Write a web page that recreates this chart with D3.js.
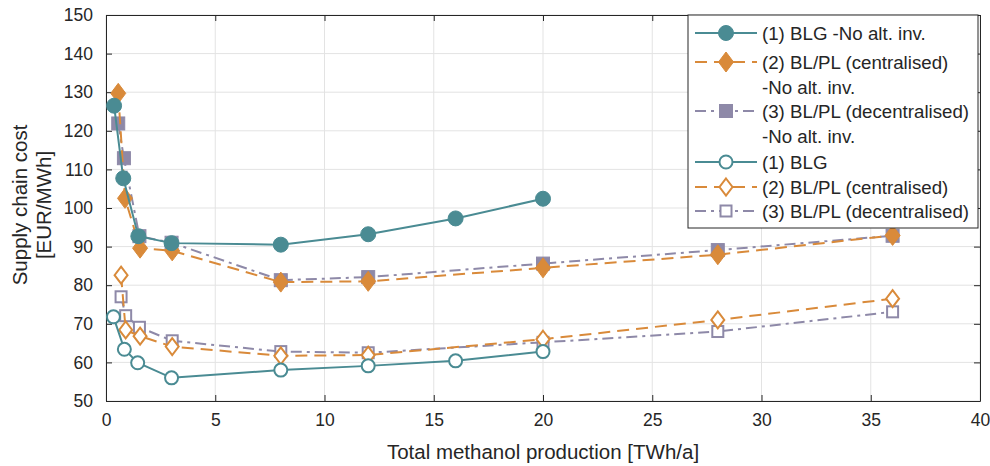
<!DOCTYPE html>
<html>
<head>
<meta charset="utf-8">
<script src="https://cdn.jsdelivr.net/npm/d3@7"></script>
<style>
  html, body { margin: 0; padding: 0; background: #fff; }
  svg { display: block; font-family: "Liberation Sans", Arial, Helvetica, sans-serif; }
</style>
</head>
<body>
<svg id="chart" width="990" height="466"></svg>
<script>
// ---- Data ----
const xTicks = [0, 5, 10, 15, 20, 25, 30, 35, 40];
const yTicks = [50, 60, 70, 80, 90, 100, 110, 120, 130, 140, 150];

const blgNoAltX = [0.37, 0.79, 1.48, 3, 8, 12, 16, 20];
const blgNoAltY = [126.5, 107.7, 92.7, 90.9, 90.5, 93.2, 97.3, 102.4];

const cenNoAltX = [0.56, 0.87, 1.56, 3.03, 8, 12, 20, 28, 36];
const cenNoAltY = [129.7, 102.5, 89.6, 88.9, 80.8, 81.0, 84.5, 87.9, 92.9];

const decNoAltX = [0.56, 0.82, 1.53, 3, 8, 12, 20, 28, 36];
const decNoAltY = [121.9, 112.9, 92.7, 91.0, 81.3, 82.1, 85.6, 89.1, 92.8];

const blgX = [0.34, 0.84, 1.45, 3, 8, 12, 16, 20];
const blgY = [71.8, 63.4, 59.9, 56.0, 58.0, 59.1, 60.4, 62.8];

const cenX = [0.69, 0.9, 1.56, 3.03, 8, 12, 20, 28, 36];
const cenY = [82.6, 68.4, 66.8, 64.1, 61.7, 61.9, 66.0, 71.0, 76.5];

const decX = [0.69, 0.9, 1.53, 3.03, 8, 12, 20, 28, 36];
const decY = [77.0, 72.1, 69.1, 65.6, 62.8, 62.5, 65.2, 68.0, 73.1];

const seriesNames = [
  ["(1) BLG -No alt. inv."],
  ["(2) BL/PL (centralised)", "-No alt. inv."],
  ["(3) BL/PL (decentralised)", "-No alt. inv."],
  ["(1) BLG"],
  ["(2) BL/PL (centralised)"],
  ["(3) BL/PL (decentralised)"]
];

const teal = "#4a8b93", orange = "#d98a3a", purple = "#8e89a8";

const series = [
  { xs: blgNoAltX, ys: blgNoAltY, color: teal,   dash: null,        marker: "circle",  filled: true },
  { xs: cenNoAltX, ys: cenNoAltY, color: orange, dash: "12,7",      marker: "diamond", filled: true },
  { xs: decNoAltX, ys: decNoAltY, color: purple, dash: "11,5,3,5",  marker: "square",  filled: true },
  { xs: blgX,      ys: blgY,      color: teal,   dash: null,        marker: "circle",  filled: false },
  { xs: cenX,      ys: cenY,      color: orange, dash: "12,7",      marker: "diamond", filled: false },
  { xs: decX,      ys: decY,      color: purple, dash: "11,5,3,5",  marker: "square",  filled: false }
];

// ---- Layout ----
const W = 990, H = 466;
const m = { left: 106, right: 10, top: 15, bottom: 65 };
const pw = W - m.left - m.right, ph = H - m.top - m.bottom;

const svg = d3.select("#chart");
const x = d3.scaleLinear().domain([0, 40]).range([m.left, m.left + pw]);
const y = d3.scaleLinear().domain([50, 150]).range([m.top + ph, m.top]);

// gridlines
const g = svg.append("g");
g.selectAll(".vg").data(xTicks).join("line")
  .attr("x1", d => x(d)).attr("x2", d => x(d))
  .attr("y1", m.top).attr("y2", m.top + ph)
  .attr("stroke", "#e3e3e3").attr("stroke-width", 1);
g.selectAll(".hg").data(yTicks).join("line")
  .attr("y1", d => y(d)).attr("y2", d => y(d))
  .attr("x1", m.left).attr("x2", m.left + pw)
  .attr("stroke", "#e3e3e3").attr("stroke-width", 1);

// axes (MATLAB-like: ticks inward, box)
const axisColor = "#262626";
const xAxis = svg.append("g").attr("transform", `translate(0,${m.top + ph})`)
  .call(d3.axisBottom(x).tickValues(xTicks).tickSizeInner(-6).tickSizeOuter(0).tickPadding(13));
const xAxisTop = svg.append("g").attr("transform", `translate(0,${m.top})`)
  .call(d3.axisTop(x).tickValues(xTicks).tickSizeInner(-6).tickSizeOuter(0).tickFormat(""));
const yAxis = svg.append("g").attr("transform", `translate(${m.left},0)`)
  .call(d3.axisLeft(y).tickValues(yTicks).tickSizeInner(-6).tickSizeOuter(0).tickPadding(13));
const yAxisRight = svg.append("g").attr("transform", `translate(${m.left + pw},0)`)
  .call(d3.axisRight(y).tickValues(yTicks).tickSizeInner(-6).tickSizeOuter(0).tickFormat(""));

[xAxis, xAxisTop, yAxis, yAxisRight].forEach(a => {
  a.select(".domain").attr("stroke", axisColor).attr("stroke-width", 1);
  a.selectAll(".tick line").attr("stroke", axisColor);
  a.selectAll(".tick text").attr("fill", "#262626").style("font-size", "17.5px")
    .style("font-family", "'Liberation Sans', Arial, sans-serif");
});

// axis labels
svg.append("text")
  .attr("x", x(20)).attr("y", 459)
  .attr("text-anchor", "middle")
  .style("font-size", "20.5px").attr("fill", "#262626")
  .text("Total methanol production [TWh/a]");

const yl = svg.append("text")
  .attr("transform", `translate(27,${y(100) - 3}) rotate(-90)`)
  .attr("text-anchor", "middle")
  .style("font-size", "20.5px").attr("fill", "#262626");
yl.append("tspan").attr("x", 0).attr("dy", 0).text("Supply chain cost");
yl.append("tspan").attr("x", 0).attr("dy", 24).text("[EUR/MWh]");

// markers
function drawMarker(sel, type, filled, color, cx, cy, scale) {
  const s = scale || 1;
  let el;
  if (type === "circle") {
    el = sel.append("circle").attr("cx", cx).attr("cy", cy).attr("r", filled ? 7.5 * s : 6.5 * s);
  } else if (type === "diamond") {
    const hw = (filled ? 7.5 : 6.5) * s, hh = (filled ? 10 : 8.5) * s;
    el = sel.append("path").attr("d", `M${cx},${cy - hh}L${cx + hw},${cy}L${cx},${cy + hh}L${cx - hw},${cy}Z`);
  } else {
    const h = (filled ? 6.5 : 5.5) * s;
    el = sel.append("rect").attr("x", cx - h).attr("y", cy - h).attr("width", 2 * h).attr("height", 2 * h);
  }
  el.attr("fill", filled ? color : "#fff").attr("stroke", color).attr("stroke-width", filled ? 1 : 2);
}

const line = d3.line().x(d => x(d[0])).y(d => y(d[1]));
const plot = svg.append("g");
// draw in reverse order so that filled series are on top like the reference
series.slice().reverse().forEach(s => {
  const pts = s.xs.map((v, i) => [v, s.ys[i]]);
  plot.append("path").datum(pts).attr("d", line)
    .attr("fill", "none").attr("stroke", s.color).attr("stroke-width", 2)
    .attr("stroke-dasharray", s.dash);
  const mg = plot.append("g");
  pts.forEach(p => drawMarker(mg, s.marker, s.filled, s.color, x(p[0]), y(p[1])));
});

// legend
const lg = svg.append("g");
const lx = 688, ly = 15, lw = 290, lh = 213;
lg.append("rect").attr("x", lx).attr("y", ly).attr("width", lw).attr("height", lh)
  .attr("fill", "#fff").attr("stroke", "#262626").attr("stroke-width", 1);
const rowY = [33, 62, 111, 162, 187, 211];
series.forEach((s, i) => {
  const ry = rowY[i];
  lg.append("line").attr("x1", 695).attr("x2", 757).attr("y1", ry).attr("y2", ry)
    .attr("stroke", s.color).attr("stroke-width", 2).attr("stroke-dasharray", s.dash);
  drawMarker(lg, s.marker, s.filled, s.color, 726, ry, 1);
  const t = lg.append("text").attr("x", 762).attr("y", ry + 6.5)
    .style("font-size", "18.7px").attr("fill", "#262626");
  seriesNames[i].forEach((ln, j) => {
    t.append("tspan").attr("x", 762).attr("dy", j === 0 ? 0 : 25).text(ln);
  });
});
</script>
</body>
</html>
